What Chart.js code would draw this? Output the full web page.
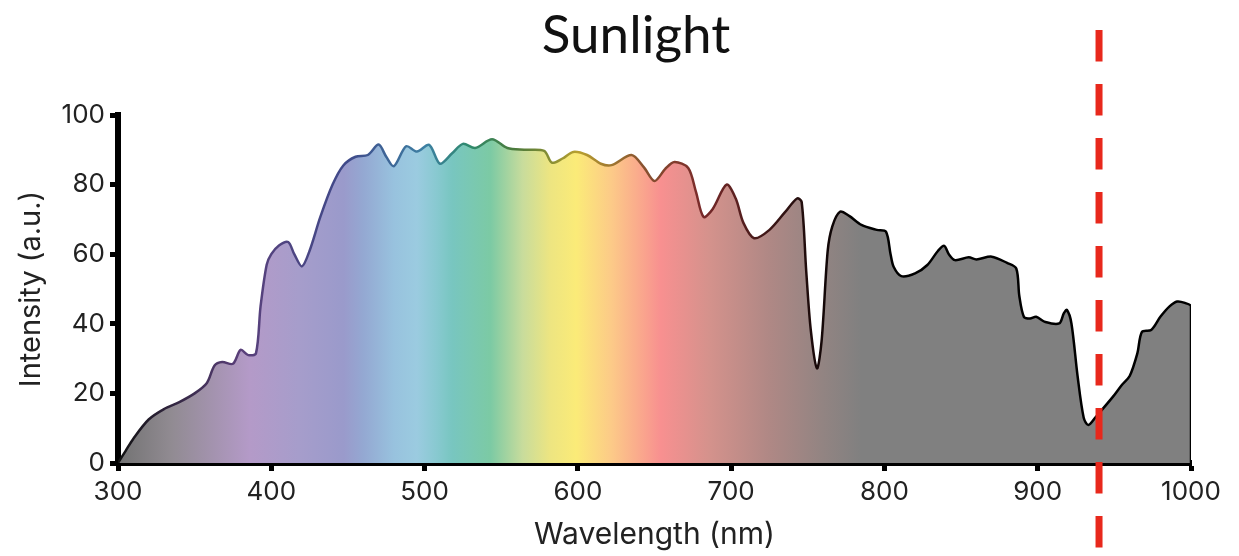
<!DOCTYPE html>
<html>
<head>
<meta charset="utf-8">
<script src="https://cdn.jsdelivr.net/npm/chart.js@4.4.1/dist/chart.umd.min.js"></script>
<style>
  html, body { margin: 0; padding: 0; background: #ffffff; }
  #wrap { width: 1239px; height: 556px; position: relative; }
</style>
</head>
<body>
<div id="wrap"><canvas id="c" width="1239" height="556"></canvas></div>
<script>
// ---- Data ----
const chartTitle = 'Sunlight';
const wavelengths = [
  300, 305, 310, 320, 330, 340, 350, 358, 363, 368, 375, 380, 385, 390, 393, 397,
  400, 405, 411, 415, 420, 425, 432, 440, 447, 455, 463, 470, 475, 480, 488, 495,
  503, 510, 518, 525, 533, 544, 554, 565, 578, 583, 590, 597, 606, 615, 622, 635,
  643, 650, 657, 663, 672, 677, 682, 688, 697, 703, 708, 715, 725, 735, 743, 746,
  749, 752, 756, 759, 763, 766, 771, 777, 785, 795, 801, 804, 806, 811, 820, 828,
  835, 839, 842, 846, 855, 860, 870, 880, 886, 888, 891, 895, 899, 905, 914, 917,
  919, 922, 926, 930, 933, 938, 949, 955, 960, 965, 968, 974, 980, 986, 991, 996,
  1000, 1000
];
const intensity = [
  0, 3.5, 7, 12.5, 15.5, 17.5, 20, 23, 28, 29, 28.5, 32.5, 31, 31.5, 45, 57,
  60, 62.5, 63.5, 60, 56.5, 61, 70.7, 80, 85.5, 88, 88.5, 91.5, 88, 85.3, 91, 89.5,
  91.4, 86, 89, 91.7, 90.5, 93, 90.5, 90, 89.7, 86.3, 87.5, 89.4, 88.5, 86, 85.6, 88.5,
  85, 81, 84.5, 86.5, 84.8, 78, 70.7, 73, 80, 76, 69, 64.6, 67, 72, 76, 75,
  55, 38, 27.2, 35, 61, 68, 72.2, 71, 68.4, 67, 66.5, 60, 56.4, 53.7, 54.5, 56.9,
  61, 62.4, 60, 58.3, 59.1, 58.5, 59.3, 57.5, 55.9, 48, 42, 41.5, 42, 40.5, 40.1, 43,
  44, 40.1, 25, 13, 10.9, 13.3, 19, 22.5, 25, 31.5, 37.7, 38.2, 42, 45, 46.4, 46,
  45, 0
];
const xTicks = [300, 400, 500, 600, 700, 800, 900, 1000];
const yTicks = [0, 20, 40, 60, 80, 100];
const markerWavelength = 940;

// spectrum colour stops (wavelength -> colour)
const fillStopNm = [300, 335, 386, 418, 447, 460, 480, 495, 508, 518, 543, 564, 582, 599, 622, 654, 686, 724, 760, 785, 1000];
const fillStopColor = ['#727272', '#918b92', '#b49ac8', '#a69dcb', '#9a9acb', '#94a8d2', '#98c2de', '#9bcbe0', '#88c9d0', '#78c6c0', '#7ccaa4', '#c8dc9c', '#ede581', '#fbeb78', '#fcca88', '#f89090', '#d4928c', '#b08885', '#928482', '#808080', '#808080'];
const lineStopNm = [300, 380, 450, 500, 530, 560, 600, 640, 680, 740, 780, 1000];
const lineStopColor = ['#111111', '#5a3f7a', '#3f4a8a', '#3d7fa3', '#2f8a6b', '#4d7a3a', '#b8a030', '#8a5530', '#7a2a2a', '#2a1010', '#000000', '#000000'];

const points = wavelengths.map((w, i) => ({ x: w, y: intensity[i] }));

function spectrumGradient(chart, stopsNm, stopsColor) {
  const { ctx, chartArea, scales } = chart;
  if (!chartArea) return null;
  const x0 = scales.x.getPixelForValue(xTicks[0]);
  const x1 = scales.x.getPixelForValue(xTicks[xTicks.length - 1]);
  const g = ctx.createLinearGradient(x0, 0, x1, 0);
  const span = xTicks[xTicks.length - 1] - xTicks[0];
  stopsNm.forEach((nm, i) => g.addColorStop((nm - xTicks[0]) / span, stopsColor[i]));
  return g;
}

const markerPlugin = {
  id: 'marker',
  afterDraw(chart) {
    const { ctx, scales } = chart;
    const x = scales.x.getPixelForValue(markerWavelength);
    ctx.save();
    ctx.strokeStyle = '#e8281c';
    ctx.lineWidth = 7;
    ctx.setLineDash([31.5, 22.5]);
    ctx.beginPath();
    ctx.moveTo(x, 30);
    ctx.lineTo(x, 548);
    ctx.stroke();
    ctx.restore();
  }
};

const titlePlugin = {
  id: 'centeredTitle',
  afterDraw(chart) {
    const { ctx } = chart;
    ctx.save();
    ctx.fillStyle = '#111';
    ctx.font = '400 53px Lato';
    ctx.textAlign = 'center';
    ctx.textBaseline = 'alphabetic';
    ctx.fillText(chartTitle, 636, 53);
    ctx.restore();
  }
};

const tickFont = { family: 'Inter', size: 26, weight: '400' };
const xTitleFont = { family: 'Inter', size: 30, weight: '400' };
const yTitleFont = { family: 'Inter', size: 29, weight: '400' };

new Chart(document.getElementById('c'), {
  type: 'line',
  data: {
    datasets: [{
      data: points,
      fill: 'origin',
      tension: 0.3,
      pointRadius: 0,
      borderWidth: 2.5,
      borderColor: (c) => spectrumGradient(c.chart, lineStopNm, lineStopColor) || '#000',
      backgroundColor: (c) => spectrumGradient(c.chart, fillStopNm, fillStopColor) || '#808080'
    }]
  },
  options: {
    responsive: false,
    animation: false,
    layout: { padding: { left: 0, right: 48, top: 115, bottom: 0 } },
    plugins: {
      legend: { display: false },
      tooltip: { enabled: false },
      title: { display: false }
    },
    scales: {
      x: {
        type: 'linear',
        min: xTicks[0],
        max: xTicks[xTicks.length - 1],
        z: 1,
        afterFit: (s) => { s.height = 93; },
        afterBuildTicks: (s) => { s.ticks = xTicks.map(v => ({ value: v })); },
        border: { display: true, color: '#000', width: 6 },
        grid: { drawOnChartArea: false, drawTicks: true, tickLength: 8, tickWidth: 5, tickColor: '#000' },
        ticks: { color: '#222', font: tickFont, padding: 6, maxRotation: 0, callback: (v) => String(v) },
        title: { display: true, text: 'Wavelength (nm)', color: '#222', font: xTitleFont, padding: { top: 0, bottom: 3 } }
      },
      y: {
        min: yTicks[0],
        max: yTicks[yTicks.length - 1],
        z: 1,
        afterFit: (s) => { s.width = 118; },
        afterBuildTicks: (s) => { s.ticks = yTicks.map(v => ({ value: v })); },
        border: { display: true, color: '#000', width: 6 },
        grid: { drawOnChartArea: false, drawTicks: true, tickLength: 8, tickWidth: 5, tickColor: '#000' },
        ticks: { color: '#222', font: tickFont, padding: 5, callback: (v) => String(v) },
        title: { display: true, text: 'Intensity (a.u.)', color: '#222', font: yTitleFont, padding: { top: 14, bottom: 0 } }
      }
    }
  },
  plugins: [markerPlugin, titlePlugin]
});
</script>
</body>
</html>
